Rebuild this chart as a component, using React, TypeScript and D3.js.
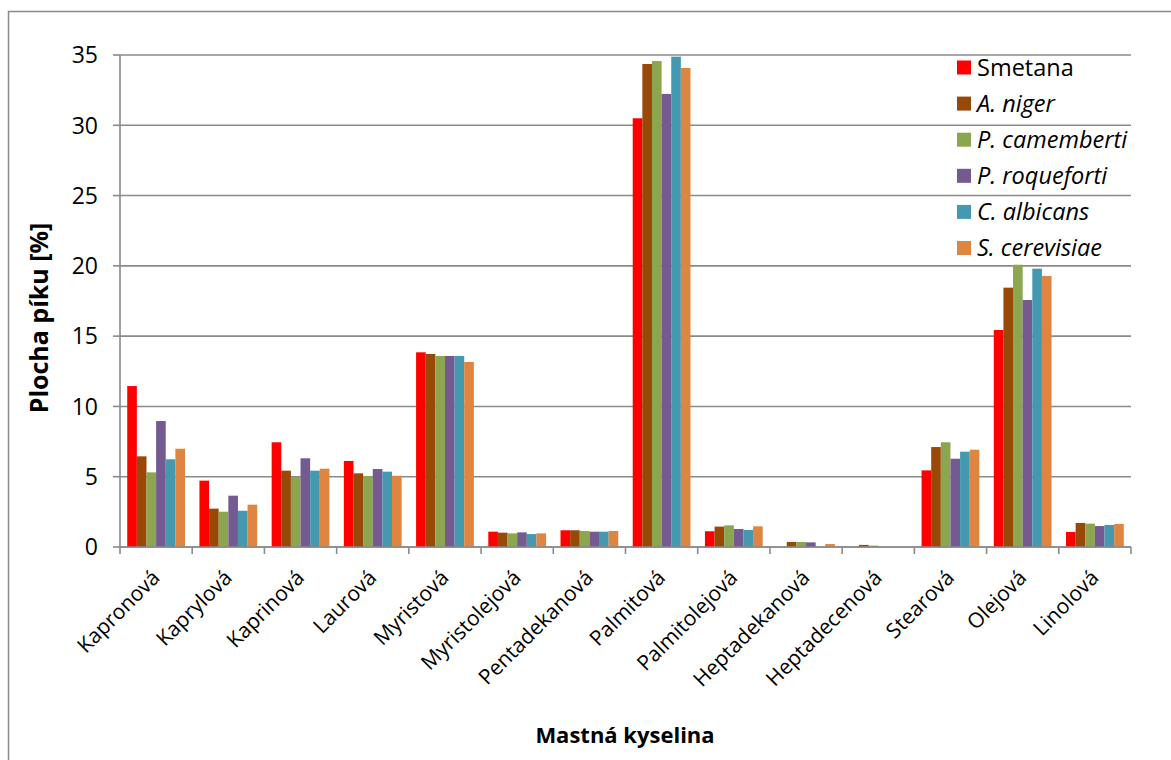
import React from "react";
import * as d3 from "d3";

// Fatty acids on the category axis
const categories = [
  "Kapronová", "Kaprylová", "Kaprinová", "Laurová", "Myristová", "Myristolejová",
  "Pentadekanová", "Palmitová", "Palmitolejová", "Heptadekanová", "Heptadecenová",
  "Stearová", "Olejová", "Linolová",
];

const seriesNames = ["Smetana", "A. niger", "P. camemberti", "P. roqueforti", "C. albicans", "S. cerevisiae"];
const seriesItalic = [false, true, true, true, true, true];
const seriesColors = ["#FF0000", "#984807", "#8CA650", "#745A91", "#4499B1", "#DE8541"];

// Peak area [%] per sample, one value per fatty acid
const smetana = [11.45, 4.72, 7.45, 6.12, 13.85, 1.09, 1.19, 30.5, 1.12, 0, 0, 5.45, 15.44, 1.07];
const aNiger = [6.45, 2.73, 5.43, 5.24, 13.73, 1.02, 1.19, 34.36, 1.45, 0.36, 0.15, 7.11, 18.45, 1.71];
const pCamemberti = [5.31, 2.51, 4.98, 5.05, 13.59, 0.97, 1.14, 34.57, 1.54, 0.36, 0.1, 7.45, 20.08, 1.66];
const pRoqueforti = [8.96, 3.65, 6.31, 5.55, 13.59, 1.04, 1.09, 32.23, 1.28, 0.33, 0, 6.28, 17.57, 1.49];
const cAlbicans = [6.24, 2.58, 5.43, 5.36, 13.59, 0.92, 1.09, 34.88, 1.21, 0, 0, 6.78, 19.8, 1.57];
const sCerevisiae = [6.99, 3.01, 5.57, 5.07, 13.16, 0.97, 1.14, 34.08, 1.47, 0.21, 0, 6.92, 19.28, 1.64];

const seriesValues = [smetana, aNiger, pCamemberti, pRoqueforti, cAlbicans, sCerevisiae];
const yTicks = [0, 5, 10, 15, 20, 25, 30, 35];

const FONT = "'Open Sans', 'DejaVu Sans', sans-serif";
const GRID = "#8A8A8A";

export default function App() {
  const left = 120;
  const right = 1131;
  const top = 55;
  const bottom = 547;

  const y = d3.scaleLinear().domain([0, 35]).range([bottom, top]);
  const x0 = d3.scaleBand<string>().domain(categories).range([left, right]).padding(0);
  const step = x0.bandwidth();
  const barW = step / 7.5; // gap width 150 %
  const x1 = d3
    .scaleBand<string>()
    .domain(seriesNames)
    .range([barW * 0.75, step - barW * 0.75])
    .padding(0);

  const catTicks = d3.range(categories.length + 1).map((i) => left + i * step);

  return (
    <svg
      width={1171}
      height={760}
      style={{ position: "absolute", left: 0, top: 0, display: "block", background: "#fff" }}
      fontFamily={FONT}
    >
      <rect x={8.5} y={11.5} width={1300} height={900} fill="#fff" stroke="#8A8A8A" strokeWidth={1.5} />

      {/* horizontal gridlines */}
      {yTicks.map((t) => (
        <line key={"g" + t} x1={left} x2={right} y1={y(t)} y2={y(t)} stroke={GRID} strokeWidth={1.6} />
      ))}

      {/* bars */}
      {seriesNames.map((s, si) => (
        <g key={s} fill={seriesColors[si]}>
          {categories.map((c, ci) => {
            const v = seriesValues[si][ci];
            if (!v) return null;
            return (
              <rect
                key={c}
                x={(x0(c) as number) + (x1(s) as number)}
                y={y(v)}
                width={x1.bandwidth()}
                height={y(0) - y(v)}
              />
            );
          })}
        </g>
      ))}

      {/* y axis */}
      <line x1={left} x2={left} y1={top} y2={bottom} stroke={GRID} strokeWidth={1.6} />
      {yTicks.map((t) => (
        <g key={"t" + t}>
          <line x1={left - 7} x2={left} y1={y(t)} y2={y(t)} stroke={GRID} strokeWidth={1.6} />
          <text x={98} y={y(t)} dy="0.36em" textAnchor="end" fontSize={23} fill="#000">
            {t}
          </text>
        </g>
      ))}

      {/* x axis */}
      <line x1={left} x2={right} y1={bottom} y2={bottom} stroke={GRID} strokeWidth={1.6} />
      {catTicks.map((tx, i) => (
        <line key={"xt" + i} x1={tx} x2={tx} y1={bottom} y2={bottom + 7} stroke={GRID} strokeWidth={1.6} />
      ))}
      {categories.map((c) => {
        const cx = (x0(c) as number) + step / 2 + 5;
        const cy = 579;
        return (
          <text
            key={"l" + c}
            transform={`translate(${cx},${cy}) rotate(-45)`}
            textAnchor="end"
            fontSize={21}
            fill="#000"
          >
            {c}
          </text>
        );
      })}

      {/* axis titles */}
      <text x={625} y={743} textAnchor="middle" fontSize={22} fontWeight="bold" fill="#000">
        Mastná kyselina
      </text>
      <text
        transform={`translate(48,${(top + bottom) / 2 + 17}) rotate(-90)`}
        textAnchor="middle"
        fontSize={25}
        fontWeight="bold"
        fill="#000"
      >
        Plocha píku [%]
      </text>

      {/* legend */}
      {seriesNames.map((s, si) => {
        const cy = 67.5 + si * 36.1;
        return (
          <g key={"lg" + s}>
            <rect x={957} y={cy - 7} width={14} height={14} fill={seriesColors[si]} />
            <text
              x={977}
              y={cy}
              dy="0.36em"
              fontSize={23.5}
              fontStyle={seriesItalic[si] ? "italic" : "normal"}
              fill="#000"
            >
              {s}
            </text>
          </g>
        );
      })}
    </svg>
  );
}
